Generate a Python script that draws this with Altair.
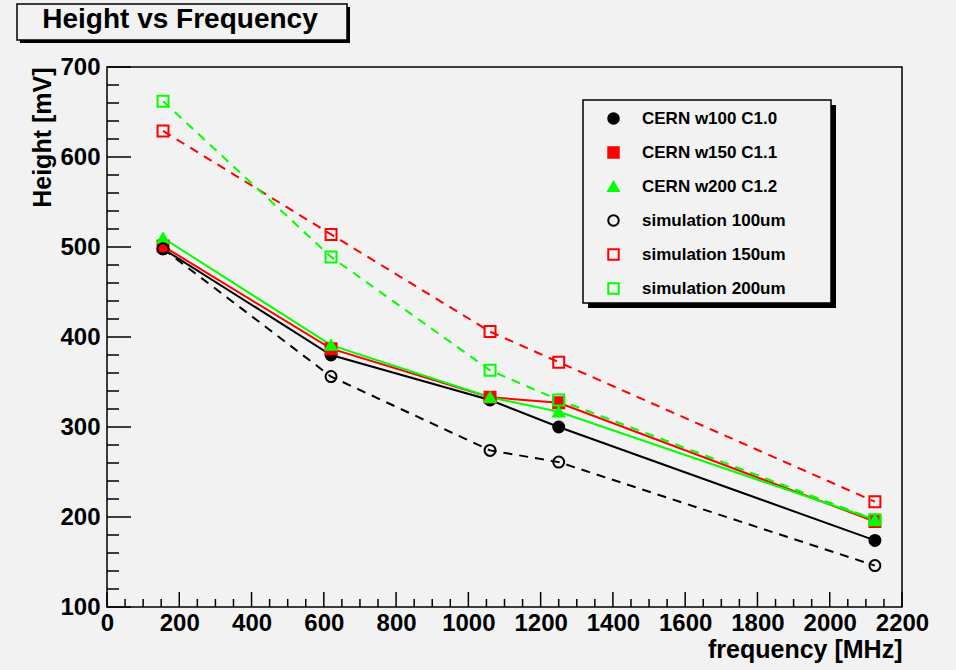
import altair as alt
import pandas as pd

# ---------------- data ----------------
series = ["CERN w100 C1.0", "CERN w150 C1.1", "CERN w200 C1.2",
          "simulation 100um", "simulation 150um", "simulation 200um"]
freq = [155, 620, 1060, 1250, 2125]
cern_w100 = [498, 380, 330, 300, 174]
cern_w150 = [501, 387, 333, 327, 195]
cern_w200 = [510, 391, 333, 317, 197]
sim_100 = [498, 356, 274, 261, 146]
sim_150 = [629, 514, 406, 372, 217]
sim_200 = [662, 489, 363, 330, 197]
heights = [cern_w100, cern_w150, cern_w200, sim_100, sim_150, sim_200]

colors = ["black", "#ff0000", "#00ff00", "black", "#ff0000", "#00ff00"]
fills = ["black", "#ff0000", "#00ff00", "transparent", "transparent", "transparent"]
shapes = ["circle", "square", "triangle-up", "circle", "square", "square"]
dashed = [False, False, False, True, True, True]

x_major = list(range(0, 2201, 200))
x_minor = [v for v in range(0, 2201, 50) if v % 200]
y_major = list(range(100, 701, 100))
y_minor = [v for v in range(100, 701, 20) if v % 100]

rows = []
for s, hs in zip(series, heights):
    for f, h in zip(freq, hs):
        rows.append({"series": s, "freq": f, "height": h})
df = pd.DataFrame(rows)
one = pd.DataFrame({"k": [0]})

# ---------------- layout ----------------
W, H = 795, 540
FONT = "Liberation Sans"
BG = "#f2f2f2"

xs = alt.Scale(domain=[0, 2200], nice=False, zero=False)
ys = alt.Scale(domain=[100, 700], nice=False, zero=False)

x_axis = alt.Axis(values=x_major, format="d", title="frequency [MHz]", domain=False,
                  ticks=False, tickSize=0, grid=False, labelFont=FONT,
                  labelFontWeight="bold", labelFontSize=24, labelColor="black",
                  labelPadding=4, labelFlush=False, labelOverlap=False, labelAngle=0,
                  titleFont=FONT, titleFontWeight="bold", titleFontSize=25,
                  titleColor="black", titleAlign="right", titleX=W, titleY=50,
                  titleBaseline="alphabetic")
y_axis = alt.Axis(values=y_major, format="d", title="Height [mV]", domain=False,
                  ticks=False, tickSize=0, grid=False, labelFont=FONT,
                  labelFontWeight="bold", labelFontSize=24, labelColor="black",
                  labelPadding=7, labelFlush=False, labelOverlap=False,
                  titleFont=FONT, titleFontWeight="bold", titleFontSize=25,
                  titleColor="black", titleAngle=270, titleAlign="right",
                  titleX=-57, titleY=0, titleBaseline="alphabetic")

X = alt.X("freq:Q", scale=xs, axis=x_axis)
Y = alt.Y("height:Q", scale=ys, axis=y_axis)

leg = alt.Legend(title=None, orient="none", legendX=498, legendY=43, padding=0,
                 labelFont=FONT, labelFontWeight="bold", labelFontSize=17,
                 labelColor="black", symbolSize=110, symbolStrokeWidth=2,
                 symbolOpacity=1, rowPadding=15, labelOffset=20)

# ---------------- decorations ----------------
def box(x1, x2, y1, y2, **kw):
    return alt.Chart(one).mark_rect(**kw).encode(
        x=alt.value(x1), x2=alt.value(x2), y=alt.value(y1), y2=alt.value(y2))

title_shadow = box(-87, 243, -60, -24, color="black")
title_box = box(-90, 240, -63, -27, fill=BG, stroke="black", strokeWidth=1.5)
title_text = alt.Chart(one).mark_text(
    text="Height vs Frequency", font=FONT, fontWeight="bold", fontSize=28,
    color="black", align="center", baseline="alphabetic").encode(
    x=alt.value(73), y=alt.value(-39))
legend_shadow = box(481, 729, 38, 241, color="black")
legend_box = box(476, 724, 33, 236, fill=BG, stroke="black", strokeWidth=1.5)

# ---------------- lines ----------------
lines = []
for s, c, d in zip(series, colors, dashed):
    kw = dict(color=c, strokeWidth=2)
    if d:
        kw["strokeDash"] = [9, 7]
    lines.append(alt.Chart(df).transform_filter(alt.datum.series == s)
                 .mark_line(**kw).encode(x=X, y=Y, order="freq:Q"))

# ---------------- points ----------------
points = alt.Chart(df).mark_point(size=120, strokeWidth=2, opacity=1).encode(
    x=X, y=Y,
    shape=alt.Shape("series:N", scale=alt.Scale(domain=series, range=shapes), legend=leg),
    stroke=alt.Stroke("series:N", scale=alt.Scale(domain=series, range=colors), legend=leg),
    fill=alt.Fill("series:N", scale=alt.Scale(domain=series, range=fills), legend=leg),
)

# ---------------- inward ticks ----------------
def xticks(vals, length):
    return alt.Chart(pd.DataFrame({"freq": vals})).mark_rule(
        color="black", strokeWidth=1.5, y2Offset=-length).encode(
        x=X, y=alt.Y(datum=100, scale=ys, axis=y_axis), y2=alt.Y2(datum=100))

def yticks(vals, length):
    return alt.Chart(pd.DataFrame({"height": vals})).mark_rule(
        color="black", strokeWidth=1.5, x2Offset=length).encode(
        y=Y, x=alt.X(datum=0, scale=xs, axis=x_axis), x2=alt.X2(datum=0))

chart = alt.layer(
    title_shadow, title_box, title_text, legend_shadow, legend_box,
    *lines, points,
    xticks(x_major, 15), xticks(x_minor, 8), yticks(y_major, 24), yticks(y_minor, 12),
).properties(
    width=W, height=H,
    autosize=alt.AutoSizeParams(type="none"),
    padding={"left": 107, "top": 67, "right": 54, "bottom": 63},
    background=BG,
).configure_view(fill=BG, stroke="black", strokeWidth=1.5)

chart.save("out.html", embed_options={"renderer": "svg", "actions": False})
